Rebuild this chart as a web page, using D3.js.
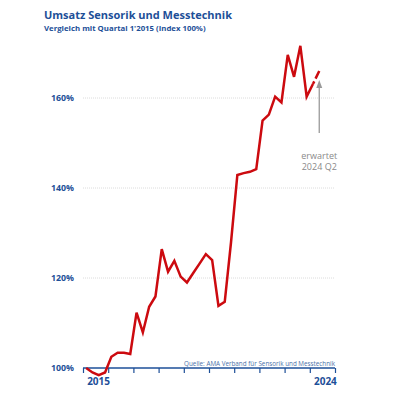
<!DOCTYPE html>
<html>
<head>
<meta charset="utf-8">
<script src="https://cdn.jsdelivr.net/npm/d3@7"></script>
<style>
  body { margin: 0; background: #fff; }
  svg { font-family: "Open Sans", sans-serif; }
</style>
</head>
<body>
<div id="chart"></div>
<script>
// quarterly index, Q1 2015 = 100
var years    = [2015,2015,2015,2015,2016,2016,2016,2016,2017,2017,2017,2017,2018,2018,2018,2018,2019,2019,2019,2019,
                2020,2020,2020,2020,2021,2021,2021,2021,2022,2022,2022,2022,2023,2023,2023,2023,2024,2024];
var quarters = [1,2,3,4,1,2,3,4,1,2,3,4,1,2,3,4,1,2,3,4,1,2,3,4,1,2,3,4,1,2,3,4,1,2,3,4,1,2];
var values   = [100.0,99.0,98.4,99.0,102.5,103.4,103.4,103.1,112.3,107.9,113.6,115.9,126.4,121.4,123.8,120.3,
                119.0,121.1,123.2,125.3,124.0,113.8,114.7,128.0,142.9,143.3,143.6,144.2,155.0,156.3,160.3,159.0,
                169.6,164.7,171.6,160.3,163.1,166.0];
var yTicks   = [100, 120, 140, 160];
var xTicks   = [2015,2016,2017,2018,2019,2020,2021,2022,2023,2024,2025];
var xLabels  = [2015, 2024];

var blue = "#1d4f98";
var red = "#cc0a0f";

var svg = d3.select("#chart").append("svg")
    .attr("width", 400)
    .attr("height", 395);

var data = values.map(function(v, i){
    return {t: years[i] + (quarters[i] - 1) / 4 + 0.125, v: v};
});

var x = d3.scaleLinear().domain([2015, 2025]).range([83, 335]);
var y = d3.scaleLinear().domain([100, 160]).range([368, 98]);

// title
svg.append("text")
    .attr("x", 44).attr("y", 18.5)
    .attr("fill", blue)
    .style("font-size", "11px").style("font-weight", "bold")
    .text("Umsatz Sensorik und Messtechnik");
svg.append("text")
    .attr("x", 44).attr("y", 30.5)
    .attr("fill", blue)
    .style("font-size", "7.8px").style("font-weight", "bold")
    .text("Vergleich mit Quartal 1'2015 (Index 100%)");

// grid
svg.selectAll(".grid")
    .data(yTicks.filter(function(d){ return d > 100; }))
    .enter().append("line")
    .attr("x1", 83).attr("x2", 335)
    .attr("y1", d => y(d)).attr("y2", d => y(d))
    .attr("stroke", "#dcdcdc")
    .attr("stroke-dasharray", "1,1");

// y labels
svg.selectAll(".ylab")
    .data(yTicks)
    .enter().append("text")
    .attr("x", 74).attr("y", d => y(d) + 3.3)
    .attr("text-anchor", "end")
    .attr("fill", blue)
    .style("font-size", "8.8px").style("font-weight", "bold")
    .text(d => d + "%");

// source
svg.append("text")
    .attr("x", 335).attr("y", 366)
    .attr("text-anchor", "end")
    .attr("fill", "#4d72a8")
    .style("font-size", "6.3px")
    .text("Quelle: AMA Verband für Sensorik und Messtechnik");

// x axis
var xAxis = svg.append("g")
    .attr("transform", "translate(0," + y(100) + ")")
    .call(d3.axisBottom(x).tickValues(xTicks).tickSize(5).tickFormat(""));
xAxis.select(".domain").attr("stroke", blue).attr("stroke-width", 1.5).attr("d", "M83,0H335");
xAxis.selectAll(".tick line").attr("stroke", blue).attr("stroke-width", 1.2);

svg.selectAll(".xlab")
    .data(xLabels)
    .enter().append("text")
    .attr("x", d => x(d + 0.5) + 3)
    .attr("y", 384.5)
    .attr("text-anchor", "middle")
    .attr("fill", blue)
    .style("font-size", "10px").style("font-weight", "bold")
    .text(d => d);

// line
var line = d3.line()
    .x(d => x(d.t))
    .y(d => y(d.v));

svg.append("path")
    .datum(data.slice(0, data.length - 1))
    .attr("d", line)
    .attr("fill", "none")
    .attr("stroke", red)
    .attr("stroke-width", 2.5)
    .attr("stroke-linejoin", "miter");

svg.append("path")
    .datum(data.slice(data.length - 2))
    .attr("d", line)
    .attr("fill", "none")
    .attr("stroke", red)
    .attr("stroke-width", 2.5)
    .attr("stroke-dasharray", "3,3,20");

// annotation arrow
var last = data[data.length - 1];
var ax = x(last.t);
svg.append("line")
    .attr("x1", ax).attr("x2", ax)
    .attr("y1", 133).attr("y2", 86)
    .attr("stroke", "#9a9a9a")
    .attr("stroke-width", 1.3);
svg.append("path")
    .attr("d", "M" + (ax - 3) + ",88L" + ax + ",80L" + (ax + 3) + ",88Z")
    .attr("fill", "#9a9a9a");

svg.selectAll(".note")
    .data(["erwartet", "2024 Q2"])
    .enter().append("text")
    .attr("x", ax)
    .attr("y", (d, i) => 158.5 + i * 11.5)
    .attr("text-anchor", "middle")
    .attr("fill", "#8a8a8a")
    .style("font-size", "9px")
    .text(d => d);
</script>
</body>
</html>
